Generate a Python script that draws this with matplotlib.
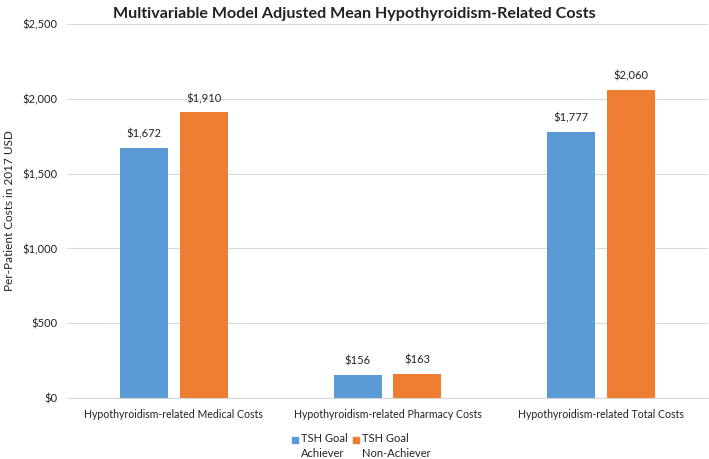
import numpy as np
import matplotlib
matplotlib.use('Agg')
import matplotlib.pyplot as plt
from matplotlib.patches import Rectangle
from matplotlib.ticker import FuncFormatter

# Data
categories = ['Hypothyroidism-related Medical Costs',
              'Hypothyroidism-related Pharmacy Costs',
              'Hypothyroidism-related Total Costs']
achiever = [1672, 156, 1777]
non_achiever = [1910, 163, 2060]
series_names = ['TSH Goal\nAchiever', 'TSH Goal\nNon-Achiever']

BLUE = '#5B9BD5'
ORANGE = '#ED7D31'
GRID = '#D9D9D9'
TXT = '#222222'

plt.rcParams['font.family'] = ['Lato', 'DejaVu Sans']

W, H = 709, 459
fig = plt.figure(figsize=(W / 100, H / 100), dpi=100, facecolor='white')
ax = fig.add_axes([67 / W, (H - 398) / H, 641 / W, 374 / H])

x = np.arange(len(categories))
w = 0.225
off = 0.14
b1 = ax.bar(x - off, achiever, w, color=BLUE, zorder=3)
b2 = ax.bar(x + off, non_achiever, w, color=ORANGE, zorder=3)

for bars in (b1, b2):
    for r in bars:
        h = r.get_height()
        ax.annotate('${:,.0f}'.format(h), (r.get_x() + r.get_width() / 2, h),
                    xytext=(0, 6), textcoords='offset points',
                    ha='center', va='bottom', fontsize=8, color=TXT)

ax.set_xlim(-0.5, 2.5)
ax.set_ylim(0, 2500)
ax.set_yticks(np.arange(0, 2501, 500))
ax.yaxis.set_major_formatter(FuncFormatter(lambda v, p: '${:,.0f}'.format(v)))
ax.set_xticks(x)
ax.set_xticklabels(categories)
ax.grid(axis='y', color=GRID, linewidth=0.8, zorder=0)
for s in ['top', 'right', 'left']:
    ax.spines[s].set_visible(False)
ax.spines['bottom'].set_color(GRID)
ax.tick_params(axis='both', length=0, labelsize=8, colors=TXT)
ax.tick_params(axis='x', pad=8, labelsize=7.6)
ax.tick_params(axis='y', pad=7)

ax.set_ylabel('Per-Patient Costs in 2017 USD', fontsize=8.5, color=TXT)
ax.yaxis.set_label_coords(-52 / 641, 0.5)
fig.text(0.5, 1 - 14 / H, 'Multivariable Model Adjusted Mean Hypothyroidism-Related Costs',
         ha='center', va='center', fontsize=11.6, fontweight='bold', color=TXT)

# legend, drawn by hand so the squares sit on the first text line
for name, col, px in zip(series_names, [BLUE, ORANGE], [292, 353]):
    fig.patches.append(Rectangle((px / W, 1 - 443 / H), 6 / W, 6 / H,
                                 transform=fig.transFigure, color=col))
    fig.text((px + 9) / W, 1 - 433 / H, name, ha='left', va='top',
             fontsize=8, color=TXT, linespacing=1.45)

fig.savefig('out.png', dpi=100, facecolor='white')
